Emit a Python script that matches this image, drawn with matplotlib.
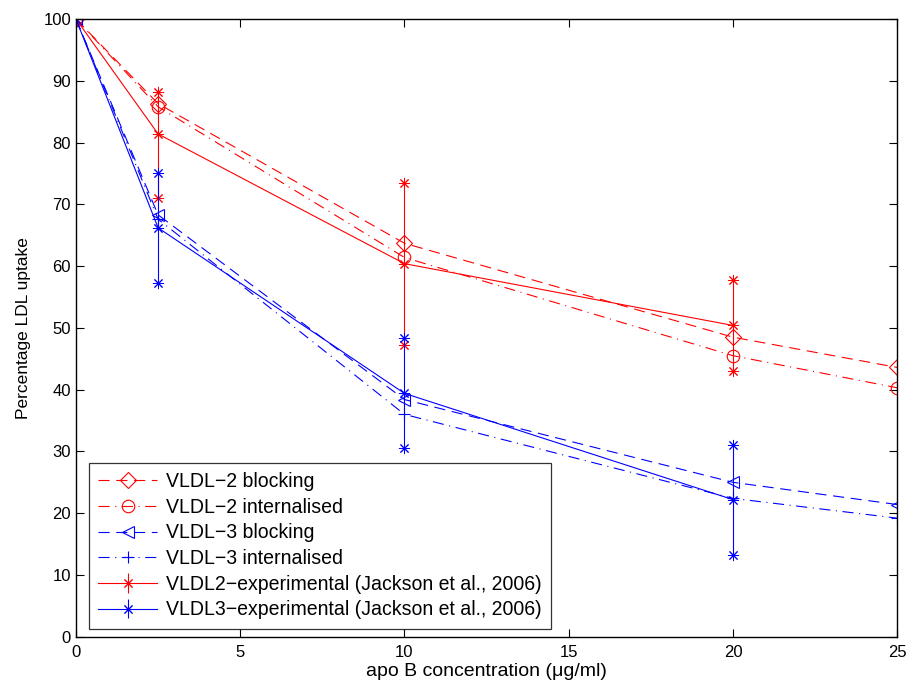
import matplotlib
matplotlib.use("Agg")
import matplotlib.pyplot as plt
import numpy as np

plt.rcParams['font.family'] = ['Liberation Sans', 'DejaVu Sans']

# model curves (sampled at the marker points)
x_model = [0, 2.5, 10, 20, 25]
vldl2_block = [100, 86.3, 63.7, 48.5, 43.6]
vldl2_int = [100, 85.8, 61.4, 45.5, 40.3]
vldl3_block = [100, 68.3, 38.4, 25.0, 21.4]
vldl3_int = [100, 67.6, 36.0, 22.4, 19.2]

# experimental data (Jackson et al., 2006): mean, top and bottom of error bar
x_exp = [0, 2.5, 10, 20]
vldl2_exp = [100, 81.4, 60.4, 50.4]
vldl2_hi = [100, 88.2, 73.5, 57.7]
vldl2_lo = [100, 71.0, 47.3, 43.1]
vldl3_exp = [100, 66.2, 39.4, 22.2]
vldl3_hi = [100, 75.0, 48.3, 31.1]
vldl3_lo = [100, 57.2, 30.5, 13.2]

star = (8, 2, 0)
lw = 0.8

fig, ax = plt.subplots(figsize=(9.1, 6.81), dpi=100)
fig.subplots_adjust(left=0.0835, right=0.986, top=0.972, bottom=0.065)

ax.plot(x_model, vldl2_block, color='r', lw=lw, linestyle=(0, (10, 6)),
        marker='D', markersize=8, mfc='none', mew=0.8, label='VLDL\u22122 blocking')
ax.plot(x_model, vldl2_int, color='r', lw=lw, linestyle=(0, (10, 5, 1, 5)),
        marker='o', markersize=9, mfc='none', mew=0.8, label='VLDL\u22122 internalised')
ax.plot(x_model, vldl3_block, color='b', lw=lw, linestyle=(0, (10, 6)),
        marker='<', markersize=9, mfc='none', mew=0.8, label='VLDL\u22123 blocking')
ax.plot(x_model, vldl3_int, color='b', lw=lw, linestyle=(0, (10, 5, 1, 5)),
        marker='+', markersize=9, mew=0.8, label='VLDL\u22123 internalised')

for ys, hi, lo, c, lab in [(vldl2_exp, vldl2_hi, vldl2_lo, 'r', 'VLDL2\u2212experimental (Jackson et al., 2006)'),
                           (vldl3_exp, vldl3_hi, vldl3_lo, 'b', 'VLDL3\u2212experimental (Jackson et al., 2006)')]:
    ys = np.array(ys)
    err = [ys - np.array(lo), np.array(hi) - ys]
    ax.errorbar(x_exp, ys, yerr=err, color=c, lw=lw, elinewidth=lw, capsize=0,
                marker=star, markersize=8, mew=0.7, label=lab)
    ax.plot(x_exp[1:], hi[1:], linestyle='none', color=c, marker=star, markersize=8, mew=0.7)
    ax.plot(x_exp[1:], lo[1:], linestyle='none', color=c, marker=star, markersize=8, mew=0.7)

ax.set_xlim(0, 25)
ax.set_ylim(0, 100)
ax.set_xticks(np.arange(0, 26, 5))
ax.set_yticks(np.arange(0, 101, 10))
ax.tick_params(direction='in', top=True, right=True, length=6, width=0.8, labelsize=12)
ax.tick_params(axis='x', pad=6)
for s in ax.spines.values():
    s.set_linewidth(1.0)
ax.set_xlabel('apo B concentration (\u03bcg/ml)', fontsize=14, labelpad=2)
ax.set_ylabel('Percentage LDL uptake', fontsize=12.5, labelpad=9)

handles, labels = ax.get_legend_handles_labels()
leg = ax.legend(handles, labels, loc='lower left', bbox_to_anchor=(0.016, 0.013),
                borderaxespad=0, fontsize=14.05, frameon=True, fancybox=False, edgecolor='k',
                handlelength=3.0, labelspacing=0.34, borderpad=0.48, handletextpad=0.45)
leg.get_frame().set_linewidth(0.9)

fig.savefig('out.png', dpi=100)
